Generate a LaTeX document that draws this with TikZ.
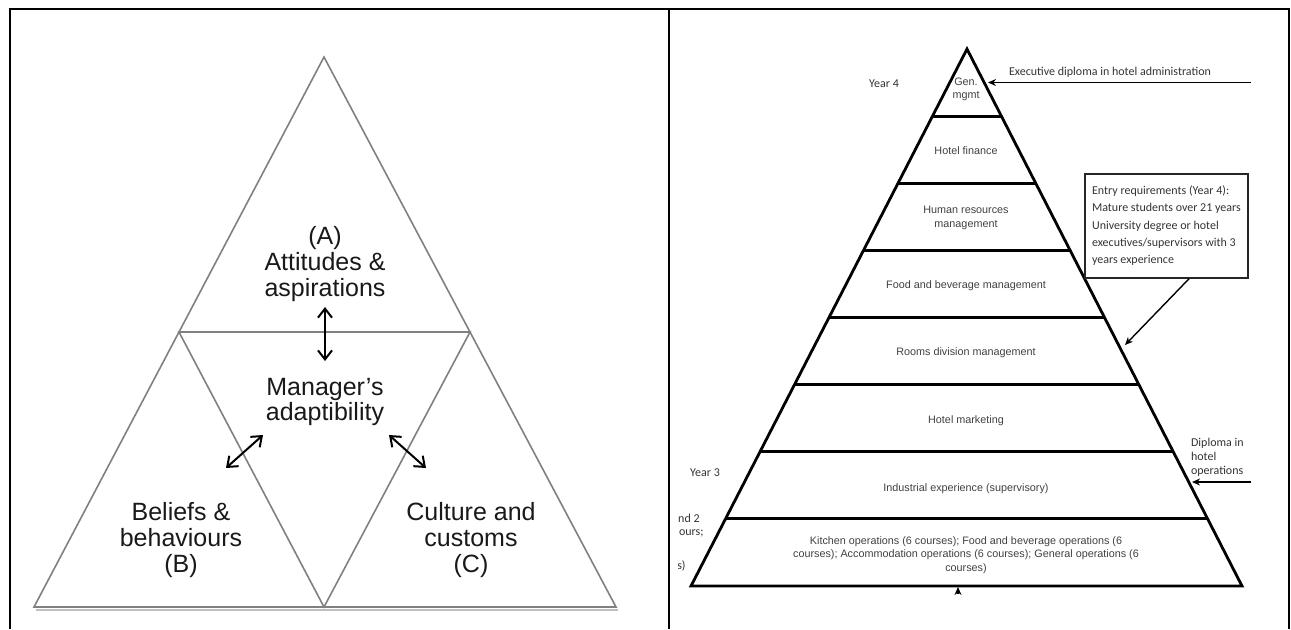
\documentclass[tikz,border=0pt]{standalone}
\usepackage{fontspec}
\setmainfont{Liberation Sans}
\newfontfamily\calfont{Carlito}
\usetikzlibrary{arrows.meta,positioning}

\begin{document}
\begin{tikzpicture}[x=0.5pt,y=-0.5pt,
  side/.style={draw=black!50,line width=0.8pt},
  big/.style={align=center,text=black!90,font=\fontsize{12.5}{12.8}\selectfont},
  dbl/.style={{Straight Barb[length=4.5pt,width=7pt]}-{Straight Barb[length=4.5pt,width=7pt]},line width=1pt},
  band/.style={line width=1.4pt},
  lvl/.style={align=center,text=black!75,font=\fontsize{5.4}{6.8}\selectfont},
  cal/.style={text=black!80,font=\calfont\fontsize{6}{7}\selectfont},
  ptr/.style={-{Stealth[length=4pt,width=3.5pt]},line width=0.9pt}]
\useasboundingbox (0,0) rectangle (1291,629);
% table frame
\draw[line width=1.3pt] (10,629) -- (10,9) -- (1289,9) -- (1289,629);
\draw[line width=1.3pt] (669,9) -- (669,629);

% left panel
\coordinate (top) at (324,57);
\coordinate (bl) at (34,607);
\coordinate (br) at (616,607);
\coordinate (ml) at (179,332);
\coordinate (mr) at (470,332);
\coordinate (mb) at (324,607);
\draw[black!25,line width=1pt] (36,610) -- (618,610);
\draw[side] (top) -- (br) -- (bl) -- cycle;
\draw[side] (ml) -- (mr) -- (mb) -- cycle;
\node[big] (a) at (325,264) {(A)\\Attitudes \&\\aspirations};
\node[big] (m) at (325,402) {Manager's\\adaptibility};
\node[big] (b) at (181,540) {Beliefs \&\\behaviours\\(B)};
\node[big] (c) at (471,540) {Culture and\\customs\\(C)};
\coordinate (a1) at (325,307);
\coordinate (a2) at (325,361);
\coordinate (b1) at (226,468);
\coordinate (b2) at (263,435);
\coordinate (c1) at (389,435);
\coordinate (c2) at (426,468);
\draw[dbl] (a1) -- (a2);
\draw[dbl] (b1) -- (b2);
\draw[dbl] (c1) -- (c2);

% right panel
\coordinate (apex) at (967,49);
\coordinate (pl) at (691,586);
\coordinate (pr) at (1242,586);
\draw[band] (apex) -- (pl) -- (pr) -- cycle;
\foreach \i in {1,...,7}
  \draw[band] ({967-34.44*\i},{49+67.125*\i}) -- ({967+34.44*\i},{49+67.125*\i});
\node[lvl] (g) at (966,89.5) {Gen.\\mgmt};
\node[lvl] (f) at (966,151) {Hotel finance};
\node[lvl] (h) at (966,218) {Human resources\\management};
\node[lvl] (fb) at (966,286) {Food and beverage management};
\node[lvl] (r) at (966,353) {Rooms division management};
\node[lvl] (mk) at (966,421) {Hotel marketing};
\node[lvl] (ie) at (966,489) {Industrial experience (supervisory)};
\node[lvl] (ko) at (966,555) {Kitchen operations (6 courses); Food and beverage operations (6\\courses); Accommodation operations (6 courses); General operations (6\\courses)};

\node[cal] (y4) at (884,84) {Year 4};
\node[cal] (y3) at (705,473) {Year 3};
\begin{scope}
\clip (678,505) rectangle (720,580);
\node[cal,anchor=east,inner sep=0pt] (y12) at (700,518) {nd 2};
\node[cal,anchor=east,inner sep=0pt] (hrs) at (704,533) {ours;};
\node[cal,anchor=east,inner sep=0pt] (crs) at (686,566) {s)};
\end{scope}

\node[cal,anchor=west] (ex) at (1002,72) {Executive diploma in hotel administration};
\coordinate (exr) at (1251,82.5);
\coordinate (exl) at (988,82.5);
\draw[ptr] (exr) -- (exl);

\node[cal,draw=black!85,line width=1pt,align=left,minimum width=81.9pt,minimum height=52pt,
  font=\calfont\fontsize{6}{8.6}\selectfont] (entry) at (1166.4,225.75)
  {Entry requirements (Year 4):\\Mature students over 21 years\\University degree or hotel\\executives/supervisors with 3\\years experience};
\coordinate (e1) at (1125,345);
\draw[ptr,line width=0.7pt] ([xshift=11.3pt]entry.south) -- (e1);

\node[cal,align=left,anchor=west] (dip) at (1184,457) {Diploma in\\hotel\\operations};
\coordinate (dr) at (1251,482);
\coordinate (dl) at (1192,482);
\draw[ptr] (dr) -- (dl);

\coordinate (up0) at (958,594);
\coordinate (up1) at (958,587);
\draw[ptr] (up0) -- (up1);
\end{tikzpicture}
\end{document}
